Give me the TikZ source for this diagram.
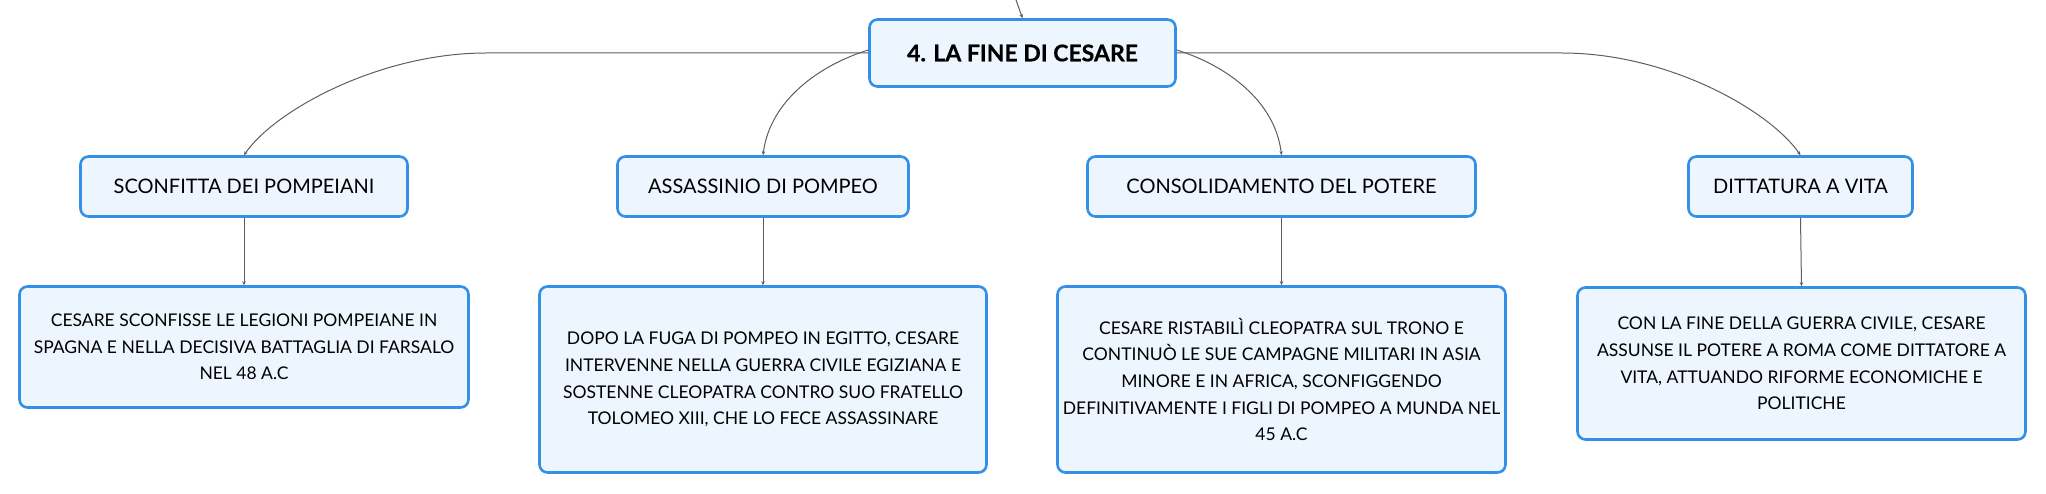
\documentclass[tikz,border=0pt]{standalone}
\usepackage{fontspec}
\setmainfont{Lato}
\newfontfamily\mmbold{Lato Bold}[FakeBold=0.6]
\usetikzlibrary{arrows.meta}
\definecolor{boxblue}{HTML}{3490E6}
\definecolor{boxfill}{HTML}{EDF6FE}
\definecolor{linegray}{HTML}{5E5E5E}
\tikzset{
  mmbox/.style={draw=boxblue, line width=2.6pt, fill=boxfill, rounded corners=8pt,
    align=center, inner sep=0pt, text=black},
  rootbox/.style={mmbox, minimum width=306pt, minimum height=67pt,
    font=\mmbold\fontsize{23}{27}\selectfont},
  childbox/.style={mmbox, minimum height=60pt, font=\fontsize{20}{24}\selectfont},
  detailbox/.style={mmbox, font=\fontsize{17.5}{26.7}\selectfont},
  conn/.style={draw=linegray, line width=1pt, -{Stealth[length=4pt,width=3.5pt]}},
}
\begin{document}
\begin{tikzpicture}[x=1pt,y=-1pt]
\useasboundingbox (0,0) rectangle (2046,494);
% root
\node[rootbox] (root) at (1022.5,53) {4. LA FINE DI CESARE};
\coordinate (up) at (1016,0);
\draw[conn] (up) -- (root.north);
% children
\node[childbox, minimum width=327pt] (c1) at (244,186.5) {SCONFITTA DEI POMPEIANI};
\node[childbox, minimum width=291pt] (c2) at (763,186.5) {ASSASSINIO DI POMPEO};
\node[childbox, minimum width=388pt] (c3) at (1281.5,186.5) {CONSOLIDAMENTO DEL POTERE};
\node[childbox, minimum width=224pt] (c4) at (1800.5,186.5) {DITTATURA A VITA};
% details
\node[detailbox, minimum width=449pt, minimum height=121pt] (d1) at (244,347)
  {CESARE SCONFISSE LE LEGIONI POMPEIANE IN\\SPAGNA E NELLA DECISIVA BATTAGLIA DI FARSALO\\NEL 48 A.C};
\node[detailbox, minimum width=447pt, minimum height=186pt] (d2) at (763,379.5)
  {DOPO LA FUGA DI POMPEO IN EGITTO, CESARE\\INTERVENNE NELLA GUERRA CIVILE EGIZIANA E\\SOSTENNE CLEOPATRA CONTRO SUO FRATELLO\\TOLOMEO XIII, CHE LO FECE ASSASSINARE};
\node[detailbox, minimum width=448pt, minimum height=186pt] (d3) at (1281.5,379.5)
  {CESARE RISTABILÌ CLEOPATRA SUL TRONO E\\CONTINUÒ LE SUE CAMPAGNE MILITARI IN ASIA\\MINORE E IN AFRICA, SCONFIGGENDO\\DEFINITIVAMENTE I FIGLI DI POMPEO A MUNDA NEL\\45 A.C};
\node[detailbox, minimum width=448pt, minimum height=152pt] (d4) at (1801.5,363.5)
  {CON LA FINE DELLA GUERRA CIVILE, CESARE\\ASSUNSE IL POTERE A ROMA COME DITTATORE A\\VITA, ATTUANDO RIFORME ECONOMICHE E\\POLITICHE};
% connectors root -> children
\draw[conn] (root.west) -- (486,53) .. controls (380,53) and (275,110) .. (c1.north);
\draw[conn] ([yshift=3pt]root.west) .. controls (820,65) and (770,100) .. (c2.north);
\draw[conn] ([yshift=3pt]root.east) .. controls (1225,65) and (1275,100) .. (c3.north);
\draw[conn] (root.east) -- (1562,53) .. controls (1668,53) and (1769,110) .. (c4.north);
% children -> details
\draw[conn] (c1.south) -- (d1.north);
\draw[conn] (c2.south) -- (d2.north);
\draw[conn] (c3.south) -- (d3.north);
\draw[conn] (c4.south) -- (d4.north);
\end{tikzpicture}
\end{document}
